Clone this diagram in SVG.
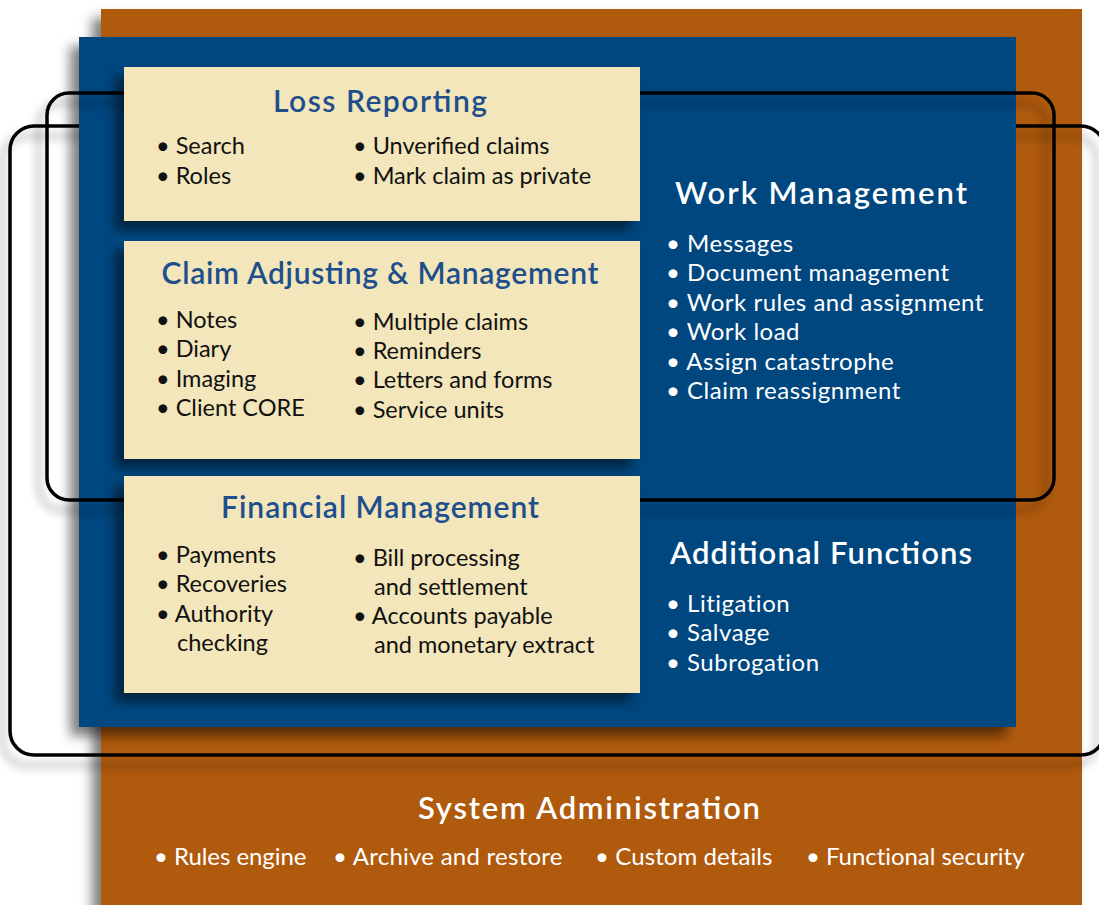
<svg xmlns="http://www.w3.org/2000/svg" width="1099" height="905" viewBox="0 0 1099 905">
<defs>
<filter id="sh" x="-10%" y="-10%" width="120%" height="120%">
<feDropShadow dx="-9" dy="9" stdDeviation="6" flood-color="#000" flood-opacity="0.5"/>
</filter>
<filter id="shl" x="-10%" y="-10%" width="120%" height="120%">
<feDropShadow dx="-8" dy="10" stdDeviation="5" flood-color="#000" flood-opacity="0.35"/>
</filter>
<style>
.org{fill:#B05A10}
.blu{fill:#00467F}
.bei{fill:#F2E6BA}
.ring{fill:none;stroke:#000;stroke-width:3.5}
.t{font-family:Lato,"Open Sans",sans-serif;font-weight:600;font-size:30px;fill:#1E4F8C;text-anchor:middle}
.tw{font-family:Lato,"Open Sans",sans-serif;font-weight:600;font-size:31px;fill:#fff}
.b{font-family:Lato,"Open Sans",sans-serif;font-size:23.5px;fill:#111}
.bw{font-family:Lato,"Open Sans",sans-serif;font-size:24px;letter-spacing:0.5px;fill:#fff}
</style>
</defs>
<g id="system-administration">
<rect class="org" x="101" y="9" width="981" height="896" filter="url(#sh)"/>
</g>
<g id="connectors">
<rect id="outer-ring" class="ring" x="10" y="126" width="1095" height="629" rx="24" filter="url(#shl)"/>
</g>
<g id="work-area">
<rect class="blu" x="79" y="37" width="937" height="690" filter="url(#sh)"/>
</g>
<g id="connectors-inner">
<rect id="inner-ring" class="ring" x="47" y="93" width="1007" height="407" rx="22" filter="url(#shl)"/>
</g>
<g id="loss-reporting">
<rect class="bei" x="124" y="67" width="516" height="154" filter="url(#sh)"/>
<text class="t" x="380" y="112" textLength="214">Loss Reporting</text>
<text class="b" x="156" y="154">• Search</text>
<text class="b" x="156" y="184">• Roles</text>
<text class="b" x="353" y="154">• Unverified claims</text>
<text class="b" x="353" y="184">• Mark claim as private</text>
</g>
<g id="claim-adjusting">
<rect class="bei" x="124" y="241" width="516" height="218" filter="url(#sh)"/>
<text class="t" x="380" y="284" textLength="437">Claim Adjusting &amp; Management</text>
<text class="b" x="156" y="328">• Notes</text>
<text class="b" x="156" y="357">• Diary</text>
<text class="b" x="156" y="387">• Imaging</text>
<text class="b" x="156" y="416">• Client CORE</text>
<text class="b" x="353" y="330">• Multiple claims</text>
<text class="b" x="353" y="359">• Reminders</text>
<text class="b" x="353" y="388">• Letters and forms</text>
<text class="b" x="353" y="418">• Service units</text>
</g>
<g id="financial-management">
<rect class="bei" x="124" y="476" width="516" height="217" filter="url(#sh)"/>
<text class="t" x="380" y="518" textLength="318">Financial Management</text>
<text class="b" x="156" y="563">• Payments</text>
<text class="b" x="156" y="592">• Recoveries</text>
<text class="b" x="156" y="622">• Authority</text>
<text class="b" x="177" y="651">checking</text>
<text class="b" x="353" y="566">• Bill processing</text>
<text class="b" x="374" y="595">and settlement</text>
<text class="b" x="353" y="624">• Accounts payable</text>
<text class="b" x="374" y="653">and monetary extract</text>
</g>
<g id="work-management">
<text class="tw" x="675" y="204" textLength="292">Work Management</text>
<text class="bw" x="666" y="252">• Messages</text>
<text class="bw" x="666" y="281">• Document management</text>
<text class="bw" x="666" y="311">• Work rules and assignment</text>
<text class="bw" x="666" y="340">• Work load</text>
<text class="bw" x="666" y="370">• Assign catastrophe</text>
<text class="bw" x="666" y="399">• Claim reassignment</text>
</g>
<g id="additional-functions">
<text class="tw" x="670" y="564" textLength="302">Additional Functions</text>
<text class="bw" x="666" y="612">• Litigation</text>
<text class="bw" x="666" y="641">• Salvage</text>
<text class="bw" x="666" y="671">• Subrogation</text>
</g>
<g id="system-administration-text">
<text class="tw" x="418" y="819" textLength="342">System Administration</text>
<text class="bw" x="154" y="865" textLength="153">• Rules engine</text>
<text class="bw" x="333" y="865" textLength="230">• Archive and restore</text>
<text class="bw" x="595" y="865" textLength="178">• Custom details</text>
<text class="bw" x="806" y="865" textLength="219">• Functional security</text>
</g>
</svg>
